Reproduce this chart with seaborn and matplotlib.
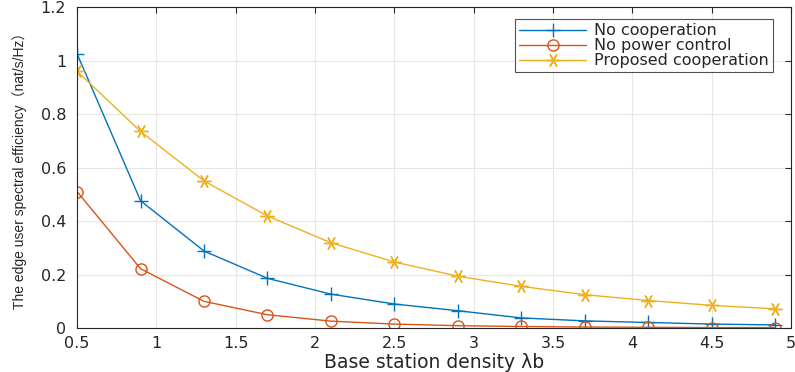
import matplotlib
matplotlib.use("Agg")
import matplotlib.pyplot as plt
import seaborn as sns
import pandas as pd

x = [0.5, 0.9, 1.3, 1.7, 2.1, 2.5, 2.9, 3.3, 3.7, 4.1, 4.5, 4.9]
no_coop = [1.025, 0.476, 0.288, 0.186, 0.127, 0.090, 0.065, 0.038, 0.027, 0.021, 0.015, 0.012]
no_power = [0.510, 0.222, 0.100, 0.050, 0.026, 0.015, 0.009, 0.006, 0.004, 0.003, 0.002, 0.002]
proposed = [0.960, 0.735, 0.550, 0.419, 0.319, 0.247, 0.194, 0.156, 0.125, 0.103, 0.085, 0.072]
labels = ["No cooperation", "No power control", "Proposed cooperation"]
colors = ["#0072BD", "#D95319", "#EDB120"]
markers = ["+", "o", (6, 2, 90)]
msizes = [10, 8, 10]

sns.set_style("white")
plt.rcParams['font.family'] = ['DejaVu Sans', 'Noto Sans CJK SC']

fig = plt.figure(figsize=(7.95, 3.72), dpi=100)
ax = fig.add_axes([0.097, 0.118, 0.898, 0.863])

for vals, lab, col, mk, ms in zip([no_coop, no_power, proposed], labels, colors, markers, msizes):
    df = pd.DataFrame({"x": x, "y": vals})
    sns.lineplot(data=df, x="x", y="y", ax=ax, color=col, linewidth=1.0,
                 label=lab, marker=mk, markersize=ms, markeredgewidth=1.0,
                 markeredgecolor=col, markerfacecolor="none")

ax.set_xlim(0.5, 5)
ax.set_ylim(0, 1.2)
ax.set_xticks([0.5, 1, 1.5, 2, 2.5, 3, 3.5, 4, 4.5, 5])
ax.set_xticklabels(["0.5", "1", "1.5", "2", "2.5", "3", "3.5", "4", "4.5", "5"])
ax.set_yticks([0, 0.2, 0.4, 0.6, 0.8, 1.0, 1.2])
ax.set_yticklabels(["0", "0.2", "0.4", "0.6", "0.8", "1", "1.2"])
ax.grid(True, color="#e6e6e6", linewidth=0.8)
ax.set_axisbelow(True)
for s in ax.spines.values():
    s.set_color("#262626")
    s.set_linewidth(0.8)
    s.set_visible(True)
ax.tick_params(direction="in", top=True, right=True, length=4, color="#262626",
               labelsize=11.5, labelcolor="#262626")
ax.tick_params(axis="y", pad=8)
ax.tick_params(axis="x", pad=6)
ax.set_xlabel("Base station density λb", fontsize=13.5, color="#262626", labelpad=1)
ax.set_ylabel("The edge user spectral efficiency（nat/s/Hz）", fontsize=10,
              family=['Liberation Sans', 'Noto Sans CJK SC'],
              color="#262626", labelpad=10)

leg = ax.legend(loc="upper right", bbox_to_anchor=(0.975, 0.962), frameon=True,
                fancybox=False, fontsize=11.5, borderpad=0.25, labelspacing=0.0,
                handlelength=4.2, handletextpad=0.5, borderaxespad=0.0)
leg.get_frame().set_edgecolor("#262626")
leg.get_frame().set_linewidth(0.8)

fig.savefig("out.png", dpi=100)
